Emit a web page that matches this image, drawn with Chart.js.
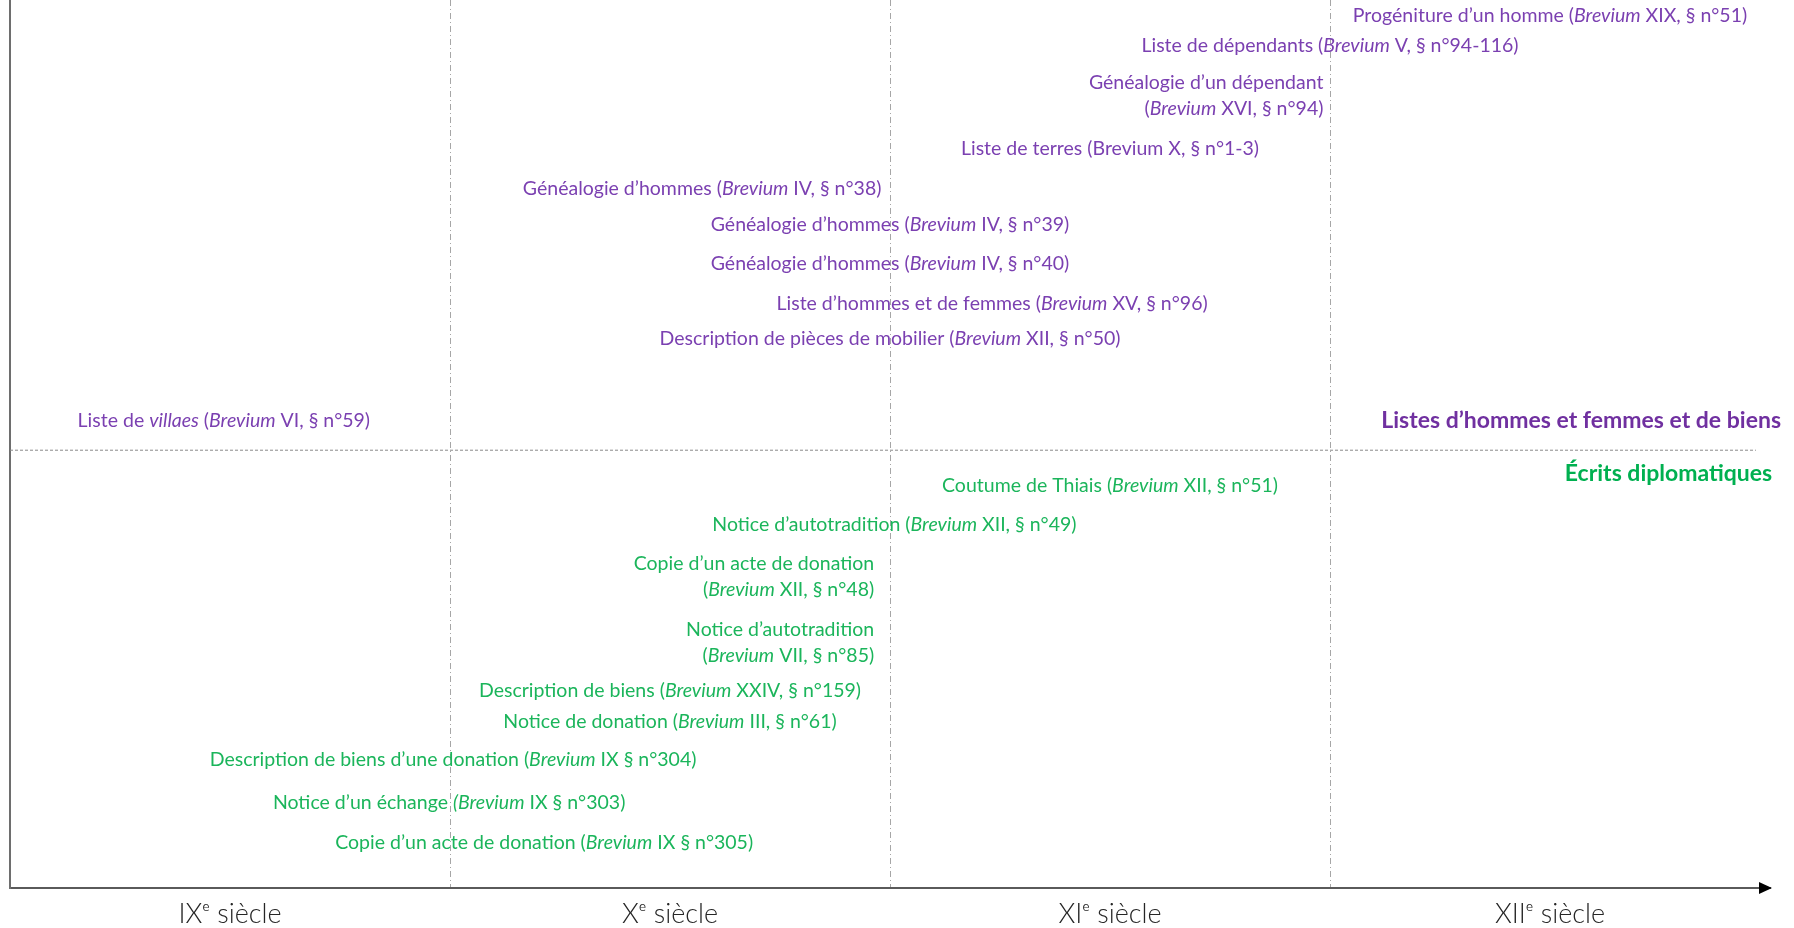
<!DOCTYPE html>
<html lang="fr">
<head>
<meta charset="utf-8">
<title>Chronologie des écrits</title>
<script src="https://cdn.jsdelivr.net/npm/chart.js@4.4.1/dist/chart.umd.min.js"></script>
<style>
  html, body { margin: 0; padding: 0; background: #fff; }
  #wrap { width: 1794px; height: 928px; position: relative; }
</style>
</head>
<body>
<div id="wrap"><canvas id="timeline"></canvas></div>
<script>
// x = approximate date (year), y = vertical row (0 bottom .. 100 top)
// _text_ marks italic parts, \n breaks a label into two lines
const listLabels = [
  'Progéniture d’un homme (_Brevium_ XIX, § n°51)',
  'Liste de dépendants (_Brevium_ V, § n°94-116)',
  'Généalogie d’un dépendant\n(_Brevium_ XVI, § n°94)',
  'Liste de terres (Brevium X, § n°1-3)',
  'Généalogie d’hommes (_Brevium_ IV, § n°38)',
  'Généalogie d’hommes (_Brevium_ IV, § n°39)',
  'Généalogie d’hommes (_Brevium_ IV, § n°40)',
  'Liste d’hommes et de femmes (_Brevium_ XV, § n°96)',
  'Description de pièces de mobilier (_Brevium_ XII, § n°50)',
  'Liste de _villaes_ (_Brevium_ VI, § n°59)'
];
const listYears = [1150, 1100, 1098.5, 1050, 957.3, 1000, 1000, 1023.2, 1000, 848.6];
const listRows = [98.2, 94.8, 89.2, 83.3, 78.8, 74.7, 70.3, 65.8, 61.8, 52.6];

const diploLabels = [
  'Coutume de Thiais (_Brevium_ XII, § n°51)',
  'Notice d’autotradition (_Brevium_ XII, § n°49)',
  'Copie d’un acte de donation\n(_Brevium_ XII, § n°48)',
  'Notice d’autotradition\n(_Brevium_ VII, § n°85)',
  'Description de biens (_Brevium_ XXIV, § n°159)',
  'Notice de donation (_Brevium_ III, § n°61)',
  'Description de biens d’une donation (_Brevium_ IX § n°304)',
  'Notice d’un échange _(Brevium_ IX § n°303)',
  'Copie d’un acte de donation (_Brevium_ IX § n°305)'
];
const diploYears = [1050, 1001, 996.4, 996.4, 950, 950, 900.7, 899.8, 921.4];
const diploRows = [45.3, 40.9, 35.0, 27.6, 22.2, 18.7, 14.4, 9.6, 5.1];

const groupNames = ['Listes d’hommes et femmes et de biens', 'Écrits diplomatiques'];
const groupYears = [1202.5, 1200.5];
const groupRows = [52.6, 46.7];

const separatorYears = [800, 1196.8];
const separatorRow = 49.3;

const centuryLabels = ['IXᵉ siècle', 'Xᵉ siècle', 'XIᵉ siècle', 'XIIᵉ siècle'];
const centuryMids = [850, 950, 1050, 1150];
const centuryBounds = [900, 1000, 1100];

const PURPLE = '#7b40b1';
const GREEN = '#1bb55b';
const FONT = 'Lato, "Open Sans", sans-serif';

function toPoints(xs, ys) {
  return xs.map((x, i) => ({ x: x, y: Array.isArray(ys) ? ys[i] : ys }));
}

function drawRich(ctx, text, x, y, opts) {
  const lines = text.split('\n');
  const lineH = 26;
  const align = lines.length > 1 ? 'right' : opts.align;
  lines.forEach((line, k) => {
    const runs = line.split('_').map((t, i) => ({ t: t, it: i % 2 === 1 }));
    let w = 0;
    runs.forEach(r => {
      ctx.font = (r.it ? 'italic ' : '') + opts.weight + ' ' + opts.size + 'px ' + FONT;
      r.w = ctx.measureText(r.t).width;
      w += r.w;
    });
    let cx = align === 'right' ? x - w : x - w / 2;
    const cy = y + (k - (lines.length - 1) / 2) * lineH;
    runs.forEach(r => {
      ctx.font = (r.it ? 'italic ' : '') + opts.weight + ' ' + opts.size + 'px ' + FONT;
      ctx.fillText(r.t, cx, cy);
      cx += r.w;
    });
  });
}

const richLabels = {
  id: 'richLabels',
  afterDatasetsDraw(chart) {
    const ctx = chart.ctx;
    ctx.save();
    ctx.textBaseline = 'middle';
    ctx.textAlign = 'left';
    chart.data.datasets.forEach((ds, i) => {
      if (!ds.texts) return;
      ctx.fillStyle = ds.textColor;
      chart.getDatasetMeta(i).data.forEach((pt, j) => {
        drawRich(ctx, ds.texts[j], pt.x, pt.y, ds.textStyle);
      });
    });
    ctx.restore();
  },
  afterDraw(chart) {
    // arrow head at the end of the time axis
    const a = chart.chartArea;
    const ctx = chart.ctx;
    ctx.save();
    ctx.fillStyle = '#000';
    ctx.beginPath();
    ctx.moveTo(a.right + 2, a.bottom);
    ctx.lineTo(a.right - 11, a.bottom - 6);
    ctx.lineTo(a.right - 11, a.bottom + 6);
    ctx.closePath();
    ctx.fill();
    ctx.restore();
  }
};

new Chart(document.getElementById('timeline'), {
  type: 'scatter',
  data: {
    datasets: [
      {
        label: groupNames[0],
        data: toPoints(listYears, listRows),
        texts: listLabels,
        textColor: PURPLE,
        textStyle: { size: 19.5, weight: 400, align: 'center' },
        pointRadius: 0
      },
      {
        label: groupNames[1],
        data: toPoints(diploYears, diploRows),
        texts: diploLabels,
        textColor: GREEN,
        textStyle: { size: 19.5, weight: 400, align: 'center' },
        pointRadius: 0
      },
      {
        label: 'groupe listes',
        data: [{ x: groupYears[0], y: groupRows[0] }],
        texts: [groupNames[0]],
        textColor: '#7030a0',
        textStyle: { size: 23, weight: 'bold', align: 'right' },
        pointRadius: 0
      },
      {
        label: 'groupe diplomatique',
        data: [{ x: groupYears[1], y: groupRows[1] }],
        texts: [groupNames[1]],
        textColor: '#00b050',
        textStyle: { size: 23, weight: 'bold', align: 'right' },
        pointRadius: 0
      },
      {
        type: 'line',
        label: 'séparation',
        data: toPoints(separatorYears, separatorRow),
        borderColor: '#8a8a8a',
        borderWidth: 1,
        borderDash: [3, 2],
        pointRadius: 0,
        fill: false
      }
    ]
  },
  options: {
    responsive: true,
    maintainAspectRatio: false,
    animation: false,
    layout: { padding: { left: 0, right: 24, top: 0, bottom: 0 } },
    plugins: {
      legend: { display: false },
      tooltip: { enabled: false }
    },
    scales: {
      x: {
        type: 'linear',
        min: 800,
        max: 1200,
        afterFit: s => { s.height = 40; },
        ticks: {
          stepSize: 50,
          autoSkip: false,
          maxRotation: 0,
          padding: 10,
          color: '#262626',
          font: { family: FONT, size: 27, weight: 300 },
          callback: v => {
            const i = centuryMids.indexOf(v);
            return i >= 0 ? centuryLabels[i] : '';
          }
        },
        grid: {
          drawTicks: false,
          lineWidth: 1,
          color: c => (c.tick && centuryBounds.includes(c.tick.value)) ? '#a6a6a6' : 'rgba(0,0,0,0)'
        },
        border: { color: '#5a5a5a', width: 2, dash: [6, 3, 1, 3] }
      },
      y: {
        type: 'linear',
        min: 0,
        max: 100,
        afterFit: s => { s.width = 10; },
        ticks: { display: false },
        grid: { display: false },
        border: { color: '#6e6e6e', width: 2 }
      }
    }
  },
  plugins: [richLabels]
});
</script>
</body>
</html>
